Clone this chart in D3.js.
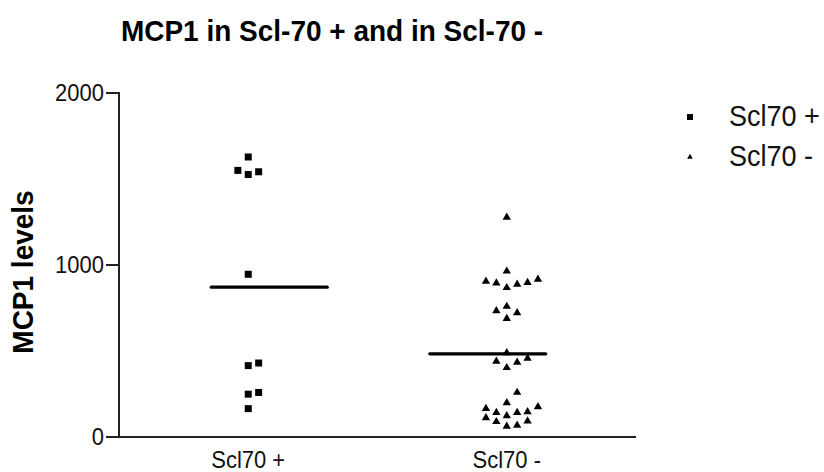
<!DOCTYPE html>
<html>
<head>
<meta charset="utf-8">
<script src="https://cdn.jsdelivr.net/npm/d3@7"></script>
<style>
  body { margin: 0; background: #fff; }
  svg { display: block; font-family: "Liberation Sans", Arial, sans-serif; }
</style>
</head>
<body>
<svg id="chart" width="824" height="472"></svg>
<script>
// data
const groups = ["Scl70 +", "Scl70 -"];
const sclPos = [1628, 1550, 1542, 1526, 946, 430, 415, 259, 249, 165];
const sclNeg = [1277, 964, 917, 905, 898, 895, 888, 868, 759, 734, 722, 689,
                489, 457, 440, 434, 403, 259, 199, 175, 165, 146, 142, 142, 123,
                111, 93, 89, 68, 62];
const yTicks = [0, 1000, 2000];
const legendLabels = ["Scl70 +", "Scl70 -"];

const svg = d3.select("#chart");

const y = d3.scaleLinear().domain([0, 2000]).range([437, 93]);
const x = d3.scaleBand().domain(groups).range([119, 636]).padding(0);

const square = d3.symbol().type(d3.symbolSquare).size(49);
const triangle = d3.symbol().type(d3.symbolTriangle).size(30);

// the original's lettering is a little taller than wide
const stretch = 1.08;
function label(sel, tx, ty, rot) {
  return sel.append("text")
    .attr("transform", `translate(${tx},${ty})${rot ? " rotate(" + rot + ")" : ""} scale(1,${stretch})`);
}

// prism-like column scatter: bin by pixel height, spread each bin sideways
function swarm(values, cx) {
  const step = 10.4, binPx = 10.4;
  const sorted = values.slice().sort((a, b) => a - b);
  const out = [];
  let bin = [];
  const flush = () => {
    bin.forEach((v, i) => {
      const k = Math.ceil(i / 2) * (i % 2 ? 1 : -1);
      out.push({ v: v, x: cx + k * step, y: y(v) });
    });
    bin = [];
  };
  sorted.forEach(v => {
    if (bin.length && y(bin[0]) - y(v) >= binPx) flush();
    bin.push(v);
  });
  flush();
  return out;
}

// title
label(svg, 332, 41)
  .attr("text-anchor", "middle")
  .attr("font-size", "28px")
  .attr("font-weight", "bold")
  .attr("fill", "#000")
  .text("MCP1 in Scl-70 + and in Scl-70 -");

// y axis
svg.append("line")
  .attr("x1", 119).attr("x2", 119)
  .attr("y1", y(2000) - 1).attr("y2", y(0) + 1)
  .attr("stroke", "#222").attr("stroke-width", 2);

svg.selectAll(".ytick")
  .data(yTicks)
  .enter().append("line")
  .attr("class", "ytick")
  .attr("x1", 106).attr("x2", 119)
  .attr("y1", d => y(d)).attr("y2", d => y(d))
  .attr("stroke", "#222").attr("stroke-width", 2);

yTicks.forEach(t => {
  label(svg, 104, y(t) + 8)
    .attr("text-anchor", "end")
    .attr("font-size", "22px")
    .attr("fill", "#111")
    .text(t);
});

label(svg, 33, 272, -90)
  .attr("text-anchor", "middle")
  .attr("font-size", "28px")
  .attr("font-weight", "bold")
  .attr("fill", "#000")
  .text("MCP1 levels");

// x axis
svg.append("line")
  .attr("x1", 118).attr("x2", 636)
  .attr("y1", y(0)).attr("y2", y(0))
  .attr("stroke", "#222").attr("stroke-width", 2);

groups.forEach(g => {
  label(svg, x(g) + x.bandwidth() / 2, 468)
    .attr("text-anchor", "middle")
    .attr("font-size", "22px")
    .attr("fill", "#111")
    .text(g);
});

// points
const series = [sclPos, sclNeg];
const shapes = [square, triangle];
series.forEach((vals, gi) => {
  const cx = x(groups[gi]) + x.bandwidth() / 2;
  svg.append("g")
    .selectAll("path")
    .data(swarm(vals, cx))
    .enter().append("path")
    .attr("d", shapes[gi])
    .attr("transform", d => `translate(${d.x},${d.y})`)
    .attr("fill", "#000");

  // mean line (drawn a bit off-centre as in the original)
  const shift = gi === 0 ? 21 : -19;
  const m = d3.mean(vals);
  svg.append("line")
    .attr("x1", cx + shift - 58).attr("x2", cx + shift + 58)
    .attr("y1", y(m)).attr("y2", y(m))
    .attr("stroke", "#000").attr("stroke-width", 3.2)
    .attr("stroke-linecap", "round");
});

// legend
const legendSym = [d3.symbol().type(d3.symbolSquare).size(36), d3.symbol().type(d3.symbolTriangle).size(14)];
legendLabels.forEach((lab, i) => {
  const ly = 117 + i * 40;
  svg.append("path")
    .attr("d", legendSym[i])
    .attr("transform", `translate(690,${ly})`)
    .attr("fill", "#000");
  label(svg, 729, ly + 9)
    .attr("font-size", "27px")
    .attr("fill", "#111")
    .text(lab);
});
</script>
</body>
</html>
